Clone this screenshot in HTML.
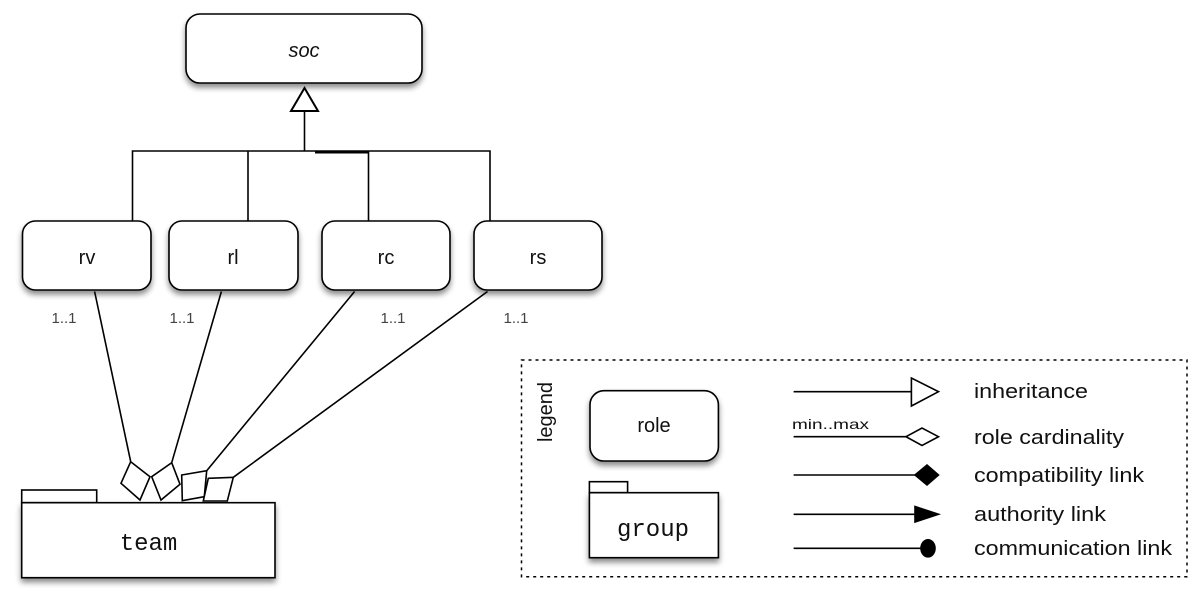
<!DOCTYPE html>
<html><head><style>
html,body{margin:0;padding:0;background:#fff;}
svg{display:block;}
text{font-family:"Liberation Sans",Arial,sans-serif;fill:#111;}
.mono{font-family:"Liberation Mono","DejaVu Sans Mono",monospace;}
</style></head><body>
<svg width="1189" height="608" viewBox="0 0 1189 608" xmlns="http://www.w3.org/2000/svg">
<defs>
<filter id="sh" x="-20%" y="-20%" width="140%" height="160%">
<feDropShadow dx="0" dy="4" stdDeviation="3" flood-color="#000" flood-opacity="0.45"/>
</filter>
</defs>
<g stroke="#000" stroke-width="1.6" fill="#fff">
<rect x="186" y="14" width="236" height="69" rx="14" filter="url(#sh)"/>
<line x1="304.5" y1="111" x2="304.5" y2="151" />
<polygon points="304.5,88 291,111 318,111" stroke-width="2"/>
<polyline points="132.5,221 132.5,151 490,151 490,221" fill="none"/>
<line x1="248" y1="151" x2="248" y2="221"/>
<line x1="368.5" y1="151" x2="368.5" y2="221"/>
<line x1="315" y1="152.5" x2="368" y2="152.5" stroke-width="2"/>
<rect x="22.5" y="221" width="128.5" height="69" rx="13" filter="url(#sh)"/>
<rect x="169" y="221" width="129" height="69" rx="13" filter="url(#sh)"/>
<rect x="322" y="221" width="128" height="69" rx="13" filter="url(#sh)"/>
<rect x="474" y="221" width="128" height="69" rx="13" filter="url(#sh)"/>
<rect x="21.7" y="490" width="75" height="12.7"/>
<rect x="21.7" y="502.7" width="253.3" height="75" filter="url(#sh)"/>
<line x1="94.6" y1="291.5" x2="130.7" y2="461.7"/>
<line x1="221.4" y1="291.5" x2="171.7" y2="462.7"/>
<line x1="354.6" y1="291.5" x2="206.7" y2="470.7"/>
<line x1="487.5" y1="291.5" x2="233.3" y2="477.3"/>
<polygon points="130.7,461.7 150,476.7 140,500 121,483.3"/>
<polygon points="171.7,462.7 180,484.3 161,500 151.7,476.7"/>
<polygon points="181.7,475 206.7,470.7 204.3,496.7 182.3,500.7"/>
<polygon points="208.3,478.3 233.3,477.3 227.3,501 203.3,501"/>
<rect x="521.5" y="360" width="665.5" height="216.7" fill="none" stroke-dasharray="3,4" stroke-width="1.5"/>
<rect x="590" y="390.7" width="128.4" height="70.3" rx="14" filter="url(#sh)"/>
<rect x="589.4" y="481.7" width="38.2" height="11"/>
<rect x="589.4" y="492.7" width="129" height="65" filter="url(#sh)"/>
<line x1="793.6" y1="391.7" x2="911.4" y2="391.7"/>
<polygon points="911.4,378 911.4,406 938.5,391.7"/>
<line x1="793.6" y1="436.7" x2="906" y2="436.7"/>
<polygon points="906,436.7 922,428 938.5,436.7 922,445.5"/>
<line x1="793.6" y1="475" x2="915" y2="475"/>
<polygon points="915,475 927,465 938.5,475 927,485" fill="#000"/>
<line x1="793.6" y1="514.3" x2="915" y2="514.3"/>
<polygon points="915,506.5 915,522 938.5,514.3" fill="#000"/>
<line x1="793.6" y1="548.3" x2="922" y2="548.3"/>
<ellipse cx="928" cy="548.3" rx="7" ry="8.5" fill="#000"/>
</g>
<g font-size="20" text-anchor="middle">
<text x="304" y="57" font-style="italic">soc</text>
<text x="87" y="264">rv</text>
<text x="233" y="264">rl</text>
<text x="386" y="264">rc</text>
<text x="538" y="264">rs</text>
<text x="654" y="432">role</text>
</g>
<g font-size="15" text-anchor="middle">
<text x="64" y="323" style="fill:#444">1..1</text>
<text x="182" y="323" style="fill:#444">1..1</text>
<text x="393" y="323" style="fill:#444">1..1</text>
<text x="516" y="323" style="fill:#444">1..1</text>
</g>
<text class="mono" x="148.5" y="550" font-size="24" text-anchor="middle">team</text>
<text class="mono" x="653" y="536" font-size="24" text-anchor="middle">group</text>
<text x="0" y="0" font-size="20" transform="translate(552,412) rotate(-90)" text-anchor="middle">legend</text>
<text x="792" y="429" font-size="14" textLength="77" lengthAdjust="spacingAndGlyphs">min..max</text>
<g font-size="20">
<text x="974" y="398" textLength="114" lengthAdjust="spacingAndGlyphs">inheritance</text>
<text x="974" y="444" textLength="150" lengthAdjust="spacingAndGlyphs">role cardinality</text>
<text x="974" y="482" textLength="170" lengthAdjust="spacingAndGlyphs">compatibility link</text>
<text x="974" y="521" textLength="132" lengthAdjust="spacingAndGlyphs">authority link</text>
<text x="974" y="555" textLength="198" lengthAdjust="spacingAndGlyphs">communication link</text>
</g>
</svg>
</body></html>
